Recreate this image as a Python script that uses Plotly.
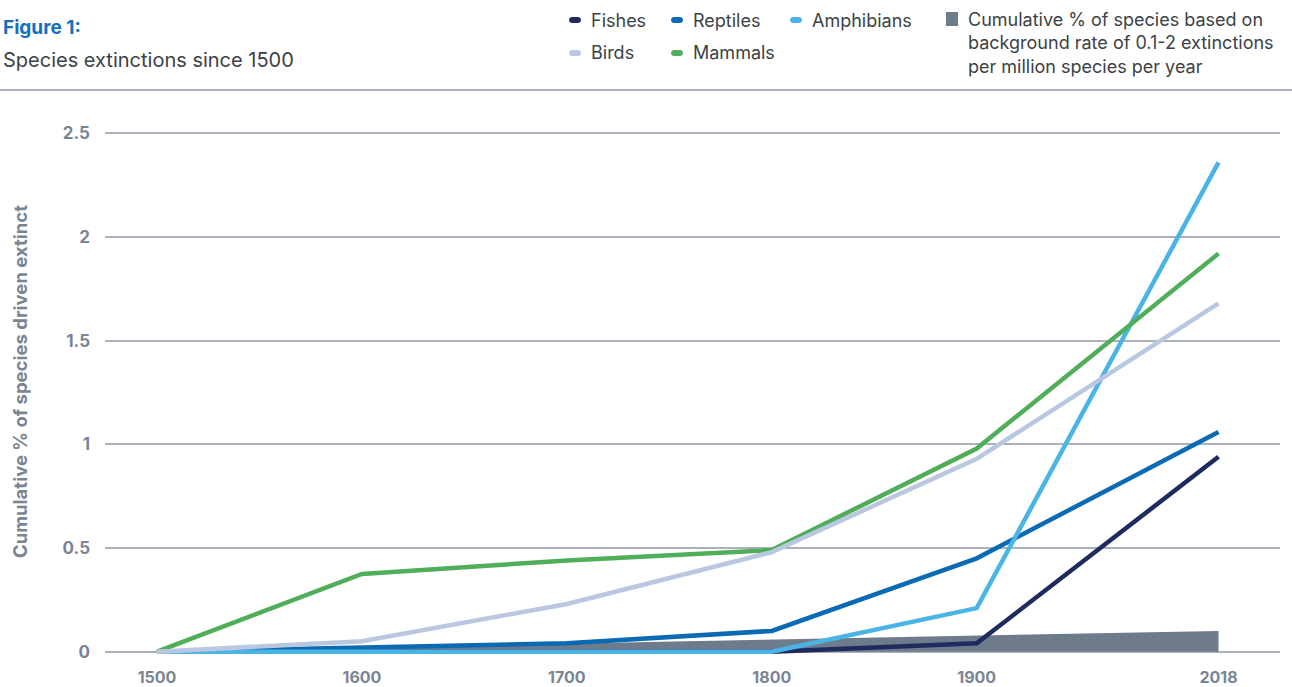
import plotly.graph_objects as go

# ---- data -------------------------------------------------------------
years = [1500, 1600, 1700, 1800, 1900, 2018]
fishes = [0, 0, 0, 0, 0.04, 0.94]
reptiles = [0, 0.02, 0.04, 0.10, 0.45, 1.06]
amphibians = [0, 0, 0, 0, 0.21, 2.36]
birds = [0, 0.05, 0.23, 0.48, 0.93, 1.68]
mammals = [0, 0.375, 0.44, 0.49, 0.98, 1.92]
background = [0, 0.02, 0.04, 0.06, 0.08, 0.10]

y_ticks = [0, 0.5, 1, 1.5, 2, 2.5]
y_tick_labels = ["0", "0.5", "1", "1.5", "2", "2.5"]

series_names = ["Fishes", "Reptiles", "Amphibians", "Birds", "Mammals"]
background_label = ("Cumulative % of species based on<br>"
                    "background rate of 0.1-2 extinctions<br>"
                    "per million species per year")

# ---- style ------------------------------------------------------------
colors = {
    "Fishes": "#1f2a5e",
    "Reptiles": "#0b6ab4",
    "Amphibians": "#4bb4e6",
    "Birds": "#b9c8e0",
    "Mammals": "#50ae5a",
}
area_color = "#6e7b8b"
grid_color = "#aab1bb"
axis_text = "#7a8594"
body_text = "#3b4246"
FONT = "Inter, Lato, sans-serif"

W, H = 1292, 687
ML, MR, MT, MB = 105, 12, 123, 25
PW, PH = W - ML - MR, H - MT - MB


def px(x, y):
    """Pixel position on the page -> paper coordinates."""
    return (x - ML) / PW, (H - MB - y) / PH


fig = go.Figure()

fig.add_trace(go.Scatter(
    x=years, y=background, mode="lines", fill="tozeroy",
    fillcolor=area_color, line=dict(width=0, color=area_color),
    showlegend=False, hoverinfo="skip",
))

series = {"Fishes": fishes, "Reptiles": reptiles, "Amphibians": amphibians,
          "Mammals": mammals, "Birds": birds}
for name in ["Fishes", "Reptiles", "Amphibians", "Mammals", "Birds"]:
    fig.add_trace(go.Scatter(
        x=years, y=series[name], mode="lines", name=name,
        line=dict(color=colors[name], width=4.5),
        showlegend=False,
    ))

# ---- header -----------------------------------------------------------
annotations = []
x0, y0 = px(1, 27)
annotations.append(dict(x=x0, y=y0, xref="paper", yref="paper",
                        text="<b>Figure 1:</b>", showarrow=False,
                        xanchor="left", yanchor="middle",
                        font=dict(family=FONT, size=19, color="#1170c0")))
x0, y0 = px(1, 60)
annotations.append(dict(x=x0, y=y0, xref="paper", yref="paper",
                        text="Species extinctions since 1500", showarrow=False,
                        xanchor="left", yanchor="middle",
                        font=dict(family=FONT, size=20, color=body_text)))

shapes = []
sx0, sy = px(0, 90)
sx1, _ = px(W, 90)
shapes.append(dict(type="line", xref="paper", yref="paper",
                   x0=sx0, x1=sx1, y0=sy, y1=sy,
                   line=dict(color=grid_color, width=2)))

# ---- legend -----------------------------------------------------------
legend_pos = {
    "Fishes": (575, 20), "Reptiles": (677, 20), "Amphibians": (796, 20),
    "Birds": (575, 53), "Mammals": (677, 53),
}
pill = "M -3,3 L 3,3 C 7,3 7,-3 3,-3 L -3,-3 C -7,-3 -7,3 -3,3 Z"
for name in series_names:
    cx, cy = legend_pos[name]
    ax, ay = px(cx, cy)
    shapes.append(dict(type="path", xref="paper", yref="paper",
                       xsizemode="pixel", ysizemode="pixel",
                       xanchor=ax, yanchor=ay, path=pill,
                       fillcolor=colors[name], line=dict(width=0)))
    tx, ty = px(cx + 14, cy)
    annotations.append(dict(x=tx, y=ty, xref="paper", yref="paper",
                            text=name, showarrow=False,
                            xanchor="left", yanchor="middle",
                            font=dict(family=FONT, size=18, color=body_text)))

ax, ay = px(952, 19)
shapes.append(dict(type="path", xref="paper", yref="paper",
                   xsizemode="pixel", ysizemode="pixel",
                   xanchor=ax, yanchor=ay,
                   path="M -6,7 L 6,7 L 6,-7 L -6,-7 Z",
                   fillcolor=area_color, line=dict(width=0)))
tx, ty = px(966, 7)
annotations.append(dict(x=tx, y=ty, xref="paper", yref="paper",
                        text=background_label, showarrow=False, align="left",
                        xanchor="left", yanchor="top",
                        font=dict(family=FONT, size=18, color=body_text)))

# ---- axis title -------------------------------------------------------
tx, ty = px(20, 382)
annotations.append(dict(x=tx, y=ty, xref="paper", yref="paper",
                        text="<b>Cumulative % of species driven extinct</b>",
                        textangle=-90, showarrow=False,
                        xanchor="center", yanchor="middle",
                        font=dict(family=FONT, size=18.5, color=axis_text)))

fig.update_layout(
    width=W, height=H,
    margin=dict(l=ML, r=MR, t=MT, b=MB, autoexpand=False),
    plot_bgcolor="white", paper_bgcolor="white",
    font=dict(family=FONT, color=axis_text),
    annotations=annotations, shapes=shapes,
    showlegend=False,
)
fig.update_xaxes(
    range=[1474.6, 2048], tickvals=years,
    ticktext=[f"<b>{y}</b>" for y in years],
    showgrid=False, zeroline=False, showline=False, automargin=False,
    ticks="", ticklabelstandoff=4,
    tickfont=dict(family=FONT, size=16, color=axis_text),
)
fig.update_yaxes(
    range=[-0.05, 2.55], tickvals=y_ticks,
    ticktext=[f"<b>{t}</b>" for t in y_tick_labels], automargin=False,
    showgrid=True, gridcolor=grid_color, gridwidth=1.5,
    zeroline=False, showline=False, ticks="", ticklabelstandoff=14,
    tickfont=dict(family=FONT, size=17, color=axis_text),
)

fig.write_html("out.html")
